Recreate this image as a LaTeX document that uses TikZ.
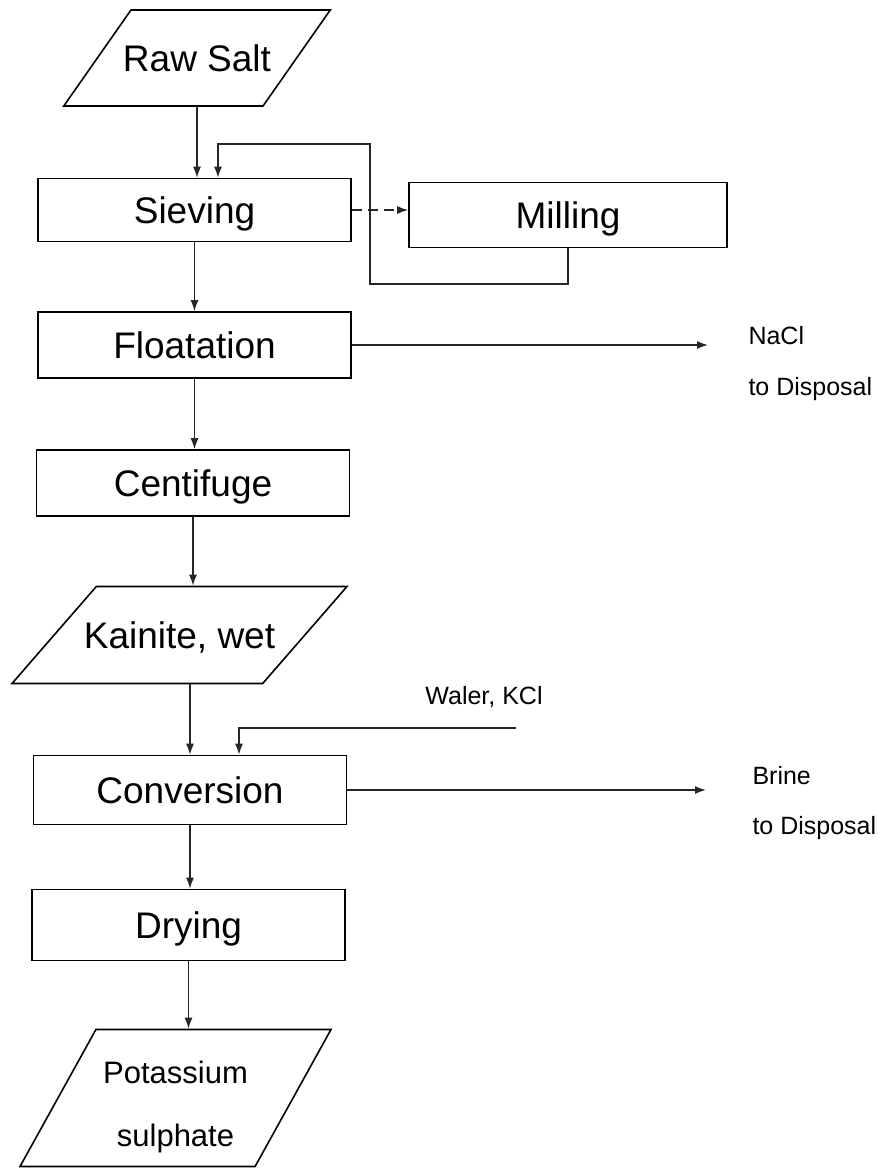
\documentclass[tikz,border=0pt]{standalone}
\usepackage{fontspec}
\setmainfont{Liberation Sans}
\usepackage{tikz}
\usetikzlibrary{shapes.geometric}
\usetikzlibrary{arrows.meta}

\begin{document}
\begin{tikzpicture}[
    x=1pt, y=-1pt,
    process/.style={draw, line width=1.6pt, rectangle, minimum width=313pt, inner sep=0pt,
        text height=27pt, text depth=0pt, font=\fontsize{37}{44}\selectfont},
    material/.style={draw, line width=1.6pt, trapezium, trapezium stretches body, inner xsep=0pt,
        text height=27pt, text depth=0pt, font=\fontsize{37}{44}\selectfont},
    flow/.style={-{Latex[length=11pt, width=8pt]}, line width=1.5pt, color=black!85},
    stream/.style={anchor=base west, font=\fontsize{25}{30}\selectfont},
]
    \useasboundingbox (0,0) rectangle (883,1168);

    % Raw material and sieving loop
    \node (raw) at (197,58) [material, trapezium left angle=55, trapezium right angle=125,
        inner xsep=-8pt, inner ysep=34.5pt, minimum width=264pt] {Raw Salt};
    \node (sieve) at (194.5,210) [process, minimum height=63pt] {Sieving};
    \node (mill) at (568,215) [process, minimum width=318pt, minimum height=65pt] {Milling};

    \coordinate (back1) at (370,284);
    \coordinate (back2) at (218,144);

    \draw [flow] (raw.center |- raw.bottom side) -- (raw.center |- sieve.north);
    \draw [flow, dash pattern=on 10pt off 6pt] (sieve.east) -- (sieve.east -| mill.west);
    \draw [flow] (mill.south) |- (back1) |- (back2) -- (back2 |- sieve.north);

    % Floatation, NaCl leaves here
    \node (float) at (194.5,345) [process, minimum height=66pt] {Floatation};
    \coordinate (naclend) at (708,345);
    \draw [flow] (sieve.south) -- (sieve.south |- float.north);
    \draw [flow] (float.east) -- (naclend);
    \node (nacl) at (745,344) [stream] {NaCl};
    \node (nacldisp) at (745,395) [stream] {to Disposal};

    % Centifuge
    \node (centri) at (193,483) [process, minimum height=66pt] {Centifuge};
    \draw [flow] (float.south) -- (float.south |- centri.north);

    % Kainite, wet
    \node (kain) at (179.5,635) [material, trapezium left angle=49, trapezium right angle=131,
        inner xsep=-13pt, inner ysep=35pt, minimum width=335pt] {Kainite, wet};
    \draw [flow] (centri.south) -- (centri.south |- kain.top side);

    % Conversion with water and KCl fed in
    \node (conv) at (190,790) [process, minimum height=69pt] {Conversion};
    \coordinate (water) at (516,728);
    \coordinate (brineend) at (706,790);
    \node (waterlbl) at (484,704) [stream, anchor=base] {Waler, KCl};
    \draw [flow] (conv.north |- kain.bottom side) -- (conv.north);
    \draw [flow] (water) -| ([xshift=49pt]conv.north);
    \draw [flow] (conv.east) -- (brineend);
    \node (brine) at (749,784) [stream] {Brine};
    \node (brinedisp) at (749,834) [stream] {to Disposal};

    % Drying and product
    \node (dry) at (188.5,925) [process, minimum height=71pt] {Drying};
    \draw [flow] (conv.south) -- (conv.south |- dry.north);

    \node (pot) at (175.5,1098) [material, trapezium left angle=61, trapezium right angle=119,
        inner ysep=10pt, text height=107pt, text depth=10pt, minimum width=311pt, align=center,
        font=\fontsize{31}{63}\selectfont] {Potassium\\sulphate};
    \draw [flow] (dry.south) -- (dry.south |- pot.top side);
\end{tikzpicture}
\end{document}
